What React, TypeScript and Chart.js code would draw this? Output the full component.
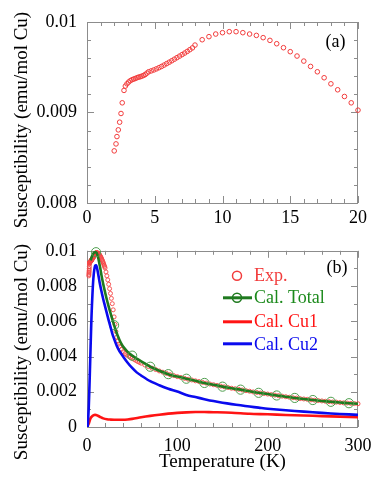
import React, { useEffect, useRef } from "react";
import { Chart, registerables } from "chart.js";

Chart.register(...registerables);

const FONT = "'Liberation Serif', 'Times New Roman', serif";

// ---------- Panel (a): experimental susceptibility, 2-20 K ----------
const expT_low = [
  2.01, 2.14, 2.21, 2.31, 2.41, 2.51, 2.6, 2.73, 2.83, 2.95, 3.07, 3.19, 3.32, 3.44, 3.56, 3.69,
  3.81, 3.93, 4.05, 4.18, 4.3, 4.42, 4.55, 4.74, 4.93, 5.12, 5.31, 5.5, 5.69, 5.88, 6.07, 6.26,
  6.45, 6.64, 6.83, 7.02, 7.21, 7.4, 7.59, 7.78, 7.97, 8.5, 9.0, 9.5, 10.0, 10.5, 11.0, 11.5,
  12.0, 12.5, 13.0, 13.5, 14.0, 14.5, 15.0, 15.5, 16.0, 16.5, 17.0, 17.5, 18.0, 18.5, 19.0,
  19.5, 20.0,
];
const expChi_low = [
  0.008576, 0.008653, 0.008734, 0.008808, 0.008893, 0.008989, 0.009107, 0.009244, 0.009292,
  0.009317, 0.009336, 0.009351, 0.009362, 0.009369, 0.009376, 0.009384, 0.009391, 0.009395,
  0.009402, 0.00941, 0.00942, 0.009435, 0.00945, 0.00946, 0.00947, 0.009482, 0.009495,
  0.009509, 0.009524, 0.00954, 0.009556, 0.009572, 0.009589, 0.009606, 0.009623, 0.00964,
  0.009657, 0.009675, 0.009694, 0.009714, 0.009745, 0.009804, 0.009838, 0.009867, 0.009882,
  0.009893, 0.009893, 0.009882, 0.009867, 0.009852, 0.009827, 0.009797, 0.00976, 0.009716,
  0.009672, 0.009624, 0.009568, 0.009509, 0.00945, 0.009384, 0.009317, 0.009251, 0.009177,
  0.009107, 0.009026,
];

// ---------- Panel (b): experimental continuation above 20 K ----------
const expT_high = [
  21, 22, 23, 24, 25, 26, 27, 28, 29, 30, 31, 32, 33, 34, 35, 36, 38, 40, 42, 44, 46, 48, 50,
  52, 54, 56, 58, 60, 64, 68, 72, 76, 80, 84, 88, 92, 96, 100, 104, 108, 112, 116, 120, 124,
  128, 132, 136, 140, 144, 148, 152, 156, 160, 164, 168, 172, 176, 180, 184, 188, 192, 196,
  200, 204, 208, 212, 216, 220, 224, 228, 232, 236, 240, 244, 248, 252, 256, 260, 264, 268,
  272, 276, 280, 284, 288, 292, 296, 300,
];
const expChi_high = [
  0.0088, 0.00858, 0.00835, 0.0081, 0.00785, 0.00758, 0.0073, 0.007, 0.00665, 0.00625,
  0.00582, 0.00542, 0.0051, 0.00487, 0.0047, 0.00457, 0.0044, 0.00427, 0.00417, 0.00409,
  0.00402, 0.00396, 0.0039, 0.00384, 0.00378, 0.00372, 0.00367, 0.00362, 0.00352, 0.00343,
  0.00334, 0.00326, 0.00318, 0.00311, 0.00304, 0.00297, 0.00292, 0.00286, 0.00281, 0.00276,
  0.00271, 0.00267, 0.00262, 0.00258, 0.00253, 0.00249, 0.00244, 0.0024, 0.00236, 0.00232,
  0.00228, 0.00224, 0.0022, 0.00217, 0.00214, 0.0021, 0.00206, 0.00203, 0.00199, 0.00196,
  0.00193, 0.0019, 0.00187, 0.00184, 0.00181, 0.00178, 0.00175, 0.00172, 0.00169, 0.00166,
  0.00164, 0.00161, 0.00159, 0.00157, 0.00154, 0.00152, 0.0015, 0.00148, 0.00146, 0.00144,
  0.00142, 0.00141, 0.00139, 0.00137, 0.00136, 0.00134, 0.00133, 0.00132,
];

// ---------- Panel (b): calculated total ----------
const totalT = [
  4, 5, 6, 7, 8, 9, 10, 11, 12, 13, 14, 15, 16, 18, 20, 22, 24, 26, 28, 30, 32, 34, 36, 38, 40,
  45, 50, 55, 60, 70, 80, 90, 100, 110, 120, 130, 140, 150, 160, 170, 180, 190, 200, 210, 220,
  230, 240, 250, 260, 270, 280, 290, 300,
];
const totalChi = [
  0.00945, 0.00962, 0.00975, 0.00984, 0.0099, 0.00993, 0.00992, 0.00985, 0.00968, 0.00945,
  0.0092, 0.00892, 0.00862, 0.0081, 0.00765, 0.00722, 0.00683, 0.00647, 0.00612, 0.00578,
  0.00546, 0.00518, 0.00494, 0.00473, 0.00456, 0.00426, 0.00405, 0.00388, 0.00373, 0.00342,
  0.00319, 0.003, 0.00286, 0.00274, 0.00262, 0.0025, 0.0024, 0.00229, 0.0022, 0.00212,
  0.00203, 0.00194, 0.00187, 0.00179, 0.00172, 0.00165, 0.00159, 0.00153, 0.00148, 0.00143,
  0.00139, 0.00135, 0.00132,
];
const totalMarkerT = [10, 30, 50, 70, 90, 110, 130, 150, 170, 190, 210, 230, 250, 270, 290];

// ---------- Panel (b): calculated Cu1 ----------
const cu1T = [
  0, 2, 4, 6, 8, 10, 12, 15, 18, 22, 26, 30, 35, 40, 45, 50, 60, 70, 80, 90, 100, 110, 120, 130,
  140, 160, 180, 200, 220, 240, 260, 280, 300,
];
const cu1Chi = [
  0, 0.0002, 0.0005, 0.00062, 0.00068, 0.00068, 0.00064, 0.00056, 0.00049, 0.00044, 0.00042,
  0.00041, 0.00041, 0.00041, 0.00043, 0.00046, 0.00055, 0.00063, 0.0007, 0.00076, 0.0008,
  0.00083, 0.00085, 0.00085, 0.00084, 0.00081, 0.00075, 0.00072, 0.00068, 0.00065, 0.00062,
  0.00059, 0.00056,
];

// ---------- Panel (b): calculated Cu2 ----------
const cu2T = [
  0.7, 1, 2, 3, 4, 5, 6, 7, 8, 9, 10, 11, 12, 14, 16, 18, 20, 22, 24, 26, 28, 30, 33, 36, 40,
  45, 50, 55, 60, 70, 80, 90, 100, 110, 120, 130, 140, 150, 160, 170, 180, 190, 200, 220, 240,
  260, 280, 300,
];
const cu2Chi = [
  0, 0.0002, 0.0012, 0.0028, 0.0046, 0.0063, 0.0075, 0.0084, 0.0089, 0.00915, 0.00918, 0.00905,
  0.0088, 0.0082, 0.0077, 0.00725, 0.00685, 0.00645, 0.00605, 0.00568, 0.0053, 0.005, 0.0046,
  0.0043, 0.004, 0.00365, 0.00335, 0.0031, 0.00292, 0.0026, 0.00237, 0.00217, 0.00201, 0.00182,
  0.0017, 0.00158, 0.00147, 0.00138, 0.0013, 0.00123, 0.00116, 0.0011, 0.00104, 0.00095,
  0.00087, 0.0008, 0.00074, 0.00069,
];

// ---------- axes ----------
const xTicksA = [0, 5, 10, 15, 20];
const yTicksA = [0.008, 0.009, 0.01];
const yTickLabelsA = ["0.008", "0.009", "0.01"];
const xTicksB = [0, 100, 200, 300];
const yTicksB = [0, 0.002, 0.004, 0.006, 0.008, 0.01];
const yTickLabelsB = ["0", "0.002", "0.004", "0.006", "0.008", "0.01"];

const yTitle = "Susceptibility (emu/mol Cu)";
const xTitle = "Temperature (K)";
const legendLabels = ["Exp.", "Cal. Total", "Cal. Cu1", "Cal. Cu2"];

const EXP_COLOR = "#f23c3c";
const TOTAL_LINE = "#1f7a1f";
const TOTAL_MARK = "#4e9e4e";
const CU1_COLOR = "#ff1414";
const CU2_COLOR = "#0a0aee";

const pts = (xs: number[], ys: number[]) => xs.map((x, i) => ({ x, y: ys[i] }));

function labelFor(values: number[], labels: string[]) {
  return (v: number) => {
    let best = 0;
    for (let i = 1; i < values.length; i++) {
      if (Math.abs(values[i] - v) < Math.abs(values[best] - v)) best = i;
    }
    return labels[best];
  };
}

function framePlugin(xMinorStep: number, xMajor: number[], yMinorStep: number, yMajor: number[]) {
  return {
    id: "frameTicks",
    beforeDatasetsDraw(chart: any) {
      const { ctx, chartArea } = chart;
      const { left, right, top, bottom } = chartArea;
      const xs = chart.scales.x;
      const ys = chart.scales.y;
      ctx.save();
      ctx.strokeStyle = "#8c8c8c";
      ctx.lineWidth = 1;
      ctx.beginPath();
      const isMajor = (v: number, arr: number[]) => arr.some((m) => Math.abs(m - v) < 1e-9);
      for (let v = xs.min; v <= xs.max + 1e-9; v += xMinorStep) {
        const len = isMajor(v, xMajor) ? 7 : 4;
        const px = Math.round(xs.getPixelForValue(v)) + 0.5;
        ctx.moveTo(px, bottom);
        ctx.lineTo(px, bottom - len);
        ctx.moveTo(px, top);
        ctx.lineTo(px, top + len);
      }
      for (let v = ys.min; v <= ys.max + 1e-12; v += yMinorStep) {
        const len = isMajor(v, yMajor) ? 7 : 4;
        const py = Math.round(ys.getPixelForValue(v)) + 0.5;
        ctx.moveTo(left, py);
        ctx.lineTo(left + len, py);
        ctx.moveTo(right, py);
        ctx.lineTo(right - len, py);
      }
      ctx.stroke();
      ctx.strokeRect(Math.round(left) + 0.5, Math.round(top) + 0.5, Math.round(right - left) - 1, Math.round(bottom - top));
      ctx.restore();
    },
  };
}

type TextItem = { text: string; x: number; y: number; size: number; rot?: number; color?: string; align?: CanvasTextAlign };

function textPlugin(items: TextItem[]) {
  return {
    id: "texts",
    afterDraw(chart: any) {
      const ctx = chart.ctx;
      for (const t of items) {
        ctx.save();
        ctx.font = `${t.size}px ${FONT}`;
        ctx.fillStyle = t.color || "#000";
        ctx.textAlign = t.align || "center";
        ctx.textBaseline = "middle";
        ctx.translate(t.x, t.y);
        if (t.rot) ctx.rotate(t.rot);
        ctx.fillText(t.text, 0, 0);
        ctx.restore();
      }
    },
  };
}

const legendPlugin = {
  id: "legendB",
  afterDraw(chart: any) {
    const { ctx, chartArea } = chart;
    const lx0 = chartArea.left + 136;
    const lx1 = chartArea.left + 165;
    const mx = chartArea.left + 150;
    const tx = chartArea.left + 167;
    const rows = [chartArea.top + 25, chartArea.top + 47, chartArea.top + 71, chartArea.top + 94];
    const colors = [EXP_COLOR, "#1c8a1c", CU1_COLOR, CU2_COLOR];
    ctx.save();
    // Exp marker
    ctx.strokeStyle = EXP_COLOR;
    ctx.lineWidth = 1.5;
    ctx.beginPath();
    ctx.arc(mx, rows[0], 4.5, 0, Math.PI * 2);
    ctx.stroke();
    // Total line + marker
    ctx.strokeStyle = TOTAL_LINE;
    ctx.lineWidth = 3;
    ctx.beginPath();
    ctx.moveTo(lx0, rows[1]);
    ctx.lineTo(lx1, rows[1]);
    ctx.stroke();
    ctx.lineWidth = 1.5;
    ctx.beginPath();
    ctx.arc(mx, rows[1], 4.5, 0, Math.PI * 2);
    ctx.stroke();
    // Cu1
    ctx.strokeStyle = CU1_COLOR;
    ctx.lineWidth = 3;
    ctx.beginPath();
    ctx.moveTo(lx0, rows[2]);
    ctx.lineTo(lx1, rows[2]);
    ctx.stroke();
    // Cu2
    ctx.strokeStyle = CU2_COLOR;
    ctx.beginPath();
    ctx.moveTo(lx0, rows[3] - 1);
    ctx.lineTo(lx1, rows[3] - 1);
    ctx.stroke();
    ctx.font = `18px ${FONT}`;
    ctx.textAlign = "left";
    ctx.textBaseline = "middle";
    legendLabels.forEach((lab, i) => {
      ctx.fillStyle = colors[i];
      ctx.fillText(lab, tx, rows[i]);
    });
    ctx.restore();
  },
};

function axisFont() {
  return { family: FONT, size: 18 };
}

export default function App() {
  const refA = useRef<HTMLCanvasElement | null>(null);
  const refB = useRef<HTMLCanvasElement | null>(null);

  useEffect(() => {
    const expLow = pts(expT_low, expChi_low);
    const chartA = new Chart(refA.current as HTMLCanvasElement, {
      type: "scatter",
      data: {
        datasets: [
          {
            label: legendLabels[0],
            data: expLow,
            showLine: false,
            pointStyle: "circle",
            pointRadius: 2.3,
            pointBorderWidth: 1,
            pointBorderColor: EXP_COLOR,
            pointBackgroundColor: "rgba(0,0,0,0)",
            clip: false,
          } as any,
        ],
      },
      options: {
        responsive: false,
        animation: false,
        devicePixelRatio: 1,
        layout: { padding: { left: 0, right: 24, top: 22, bottom: 0 } },
        plugins: { legend: { display: false }, tooltip: { enabled: false } },
        scales: {
          x: {
            type: "linear",
            min: 0,
            max: 20,
            afterBuildTicks: (s: any) => {
              s.ticks = xTicksA.map((v) => ({ value: v }));
            },
            afterFit: (s: any) => {
              s.height = 27;
            },
            grid: { display: false, drawTicks: false },
            border: { display: false },
            ticks: { font: axisFont(), color: "#000", padding: 4, maxRotation: 0 },
          },
          y: {
            type: "linear",
            min: 0.008,
            max: 0.01,
            afterBuildTicks: (s: any) => {
              s.ticks = yTicksA.map((v) => ({ value: v }));
            },
            afterFit: (s: any) => {
              s.width = 87;
            },
            grid: { display: false, drawTicks: false },
            border: { display: false },
            ticks: { font: axisFont(), color: "#000", padding: 10, callback: labelFor(yTicksA, yTickLabelsA) as any },
          },
        },
      },
      plugins: [
        framePlugin(1, xTicksA, 0.0002, yTicksA),
        textPlugin([
          { text: yTitle, x: 22, y: 120, size: 19, rot: -Math.PI / 2 },
          { text: "(a)", x: 335.5, y: 42.5, size: 18 },
        ]),
      ],
    });

    const expAll = pts(expT_low.concat(expT_high), expChi_low.concat(expChi_high));
    const totalPts = pts(totalT, totalChi);
    const chartB = new Chart(refB.current as HTMLCanvasElement, {
      type: "scatter",
      data: {
        datasets: [
          {
            label: legendLabels[3],
            data: pts(cu2T, cu2Chi),
            showLine: true,
            borderColor: CU2_COLOR,
            borderWidth: 2.6,
            pointRadius: 0,
            tension: 0.3,
            order: 0,
          } as any,
          {
            label: legendLabels[2],
            data: pts(cu1T, cu1Chi),
            showLine: true,
            borderColor: CU1_COLOR,
            borderWidth: 2.6,
            pointRadius: 0,
            tension: 0.3,
            order: 1,
          } as any,
          {
            label: legendLabels[1],
            data: totalPts,
            showLine: true,
            borderColor: TOTAL_LINE,
            borderWidth: 2.6,
            tension: 0.3,
            pointStyle: "circle",
            pointRadius: (c: any) => (totalMarkerT.includes(c.raw?.x) ? 4.6 : 0),
            pointBorderWidth: 1,
            pointBorderColor: TOTAL_MARK,
            pointBackgroundColor: "rgba(0,0,0,0)",
            order: 2,
            clip: false,
          } as any,
          {
            label: legendLabels[0],
            data: expAll,
            showLine: false,
            pointStyle: "circle",
            pointRadius: 2,
            pointBorderWidth: 1,
            pointBorderColor: "rgba(245,70,70,0.9)",
            pointBackgroundColor: "rgba(0,0,0,0)",
            order: 3,
            clip: false,
          } as any,
        ],
      },
      options: {
        responsive: false,
        animation: false,
        devicePixelRatio: 1,
        layout: { padding: { left: 0, right: 24, top: 18, bottom: 0 } },
        plugins: { legend: { display: false }, tooltip: { enabled: false } },
        scales: {
          x: {
            type: "linear",
            min: 0,
            max: 300,
            afterBuildTicks: (s: any) => {
              s.ticks = xTicksB.map((v) => ({ value: v }));
            },
            afterFit: (s: any) => {
              s.height = 57;
            },
            grid: { display: false, drawTicks: false },
            border: { display: false },
            ticks: { font: axisFont(), color: "#000", padding: 8, maxRotation: 0 },
          },
          y: {
            type: "linear",
            min: 0,
            max: 0.01,
            afterBuildTicks: (s: any) => {
              s.ticks = yTicksB.map((v) => ({ value: v }));
            },
            afterFit: (s: any) => {
              s.width = 87;
            },
            grid: { display: false, drawTicks: false },
            border: { display: false },
            ticks: { font: axisFont(), color: "#000", padding: 10, callback: labelFor(yTicksB, yTickLabelsB) as any },
          },
        },
      },
      plugins: [
        framePlugin(20, xTicksB, 0.001, yTicksB),
        legendPlugin,
        textPlugin([
          { text: yTitle, x: 22, y: 122, size: 19, rot: -Math.PI / 2 },
          { text: xTitle, x: 222.5, y: 232, size: 19 },
          { text: "(b)", x: 337, y: 38.5, size: 18 },
        ]),
      ],
    });

    return () => {
      chartA.destroy();
      chartB.destroy();
    };
  }, []);

  return (
    <div style={{ position: "absolute", left: 0, top: 0, width: 382, height: 484, background: "#fff" }}>
      <canvas ref={refA} width={382} height={230} style={{ position: "absolute", left: 0, top: 0, display: "block" }} />
      <canvas ref={refB} width={382} height={254} style={{ position: "absolute", left: 0, top: 230, display: "block" }} />
    </div>
  );
}
